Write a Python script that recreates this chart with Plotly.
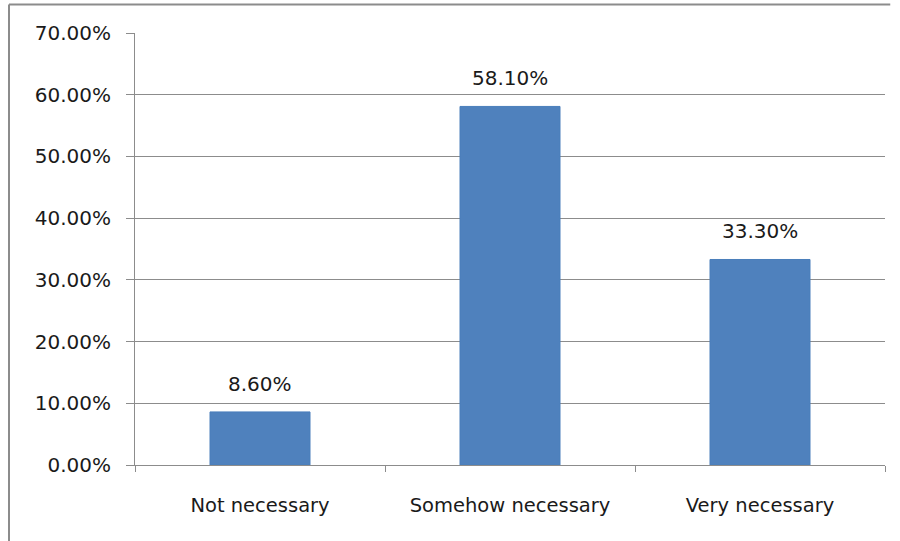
import plotly.graph_objects as go

categories = ["Not necessary", "Somehow necessary", "Very necessary"]
values = [0.086, 0.581, 0.333]
labels = ["8.60%", "58.10%", "33.30%"]
y_ticks = [0, 0.1, 0.2, 0.3, 0.4, 0.5, 0.6, 0.7]

fig = go.Figure(go.Bar(
    x=categories, y=values,
    marker=dict(color="#4F81BD", line=dict(color="#4A7EBB", width=1)),
))

for c, v, t in zip(categories, values, labels):
    fig.add_annotation(x=c, y=v, text=t, showarrow=False, yanchor="bottom",
                       yshift=14, font=dict(size=20, color="#1a1a1a"))

fig.update_layout(
    width=900, height=541,
    margin=dict(l=135, r=15, t=33, b=76),
    paper_bgcolor="white", plot_bgcolor="white",
    font=dict(family="DejaVu Sans", size=20, color="#1a1a1a"),
    bargap=0.6, showlegend=False,
    shapes=[
        dict(type="line", xref="paper", yref="paper", x0=-0.168, x1=1.007, y0=1.066, y1=1.066,
             line=dict(color="#8c8c8c", width=2)),
        dict(type="line", xref="paper", yref="paper", x0=-0.168, x1=-0.168, y0=1.066, y1=-0.2,
             line=dict(color="#8c8c8c", width=2)),
    ],
)
fig.update_xaxes(
    showline=True, linecolor="#8c8c8c", linewidth=1,
    ticks="outside", tickson="boundaries", ticklen=6, tickcolor="#8c8c8c",
    ticklabelstandoff=23, showgrid=False, tickfont=dict(size=19.5),
)
fig.update_yaxes(
    range=[0, 0.7], tickvals=y_ticks, tickformat=".2%",
    showline=True, linecolor="#8c8c8c", linewidth=1,
    ticks="outside", ticklen=8, tickcolor="#8c8c8c",
    showgrid=True, gridcolor="#8c8c8c", gridwidth=1, zeroline=False,
    ticklabelstandoff=11, tickfont=dict(size=20),
)

fig.write_html("out.html", config={"displayModeBar": False},
               post_script="document.body.style.margin='0';")
